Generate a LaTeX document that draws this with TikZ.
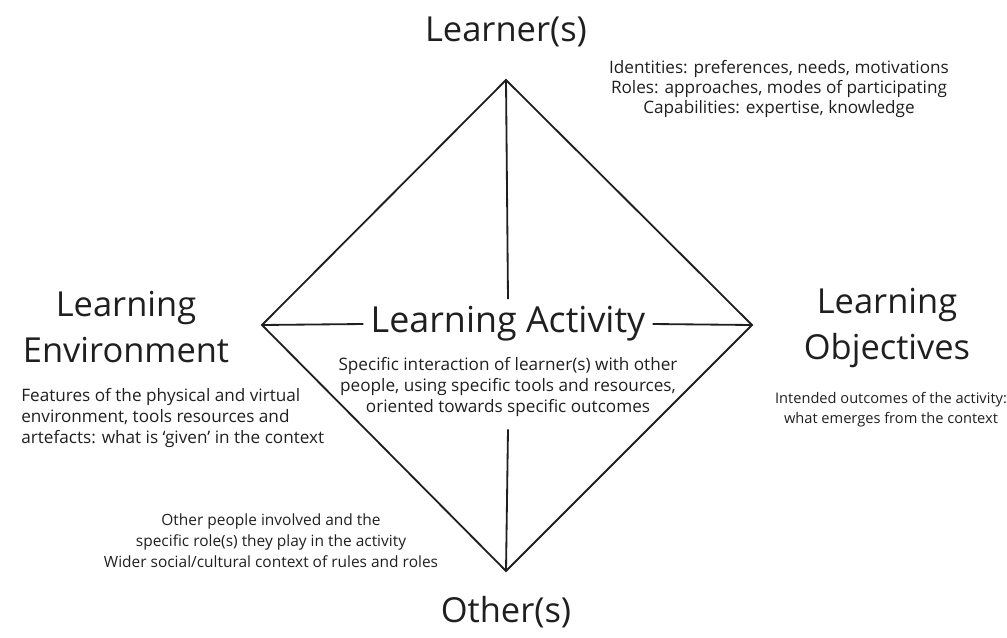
\documentclass[tikz,border=0pt]{standalone}
\usepackage{fontspec}
\setmainfont{Open Sans}
\usepackage{xcolor}
\usepackage{tikz}
\usetikzlibrary{positioning}

\begin{document}
\begin{tikzpicture}[x=0.025cm,y=-0.025cm]
  \tikzset{Title/.style={text=black!88, font=\fontsize{24.5}{33}\selectfont, align=center, inner sep=0pt}};
  \tikzset{Note/.style={text=black!88, font=\fontsize{12.2}{14.8}\selectfont, align=center, inner sep=0pt}};
  \tikzset{Edge/.style={draw=black!88, line width=1.3pt, line join=miter}};
  \useasboundingbox (0,0) rectangle (1007,638);
  % corners of the diamond
  \coordinate (t) at (506,80);
  \coordinate (l) at (262,325);
  \coordinate (r) at (752,325);
  \coordinate (b) at (506,571);
  % labels
  \node[Title, anchor=base] (learner) at (506,42) {Learner(s)};
  \node[Note, font=\fontsize{12.2}{14}\selectfont, anchor=base] (learnernote) at (779,113) {Identities: preferences, needs, motivations\\Roles: approaches, modes of participating\\Capabilities: expertise, knowledge};
  \node[Title] (env) at (126,327) {Learning\\Environment};
  \node[Note, align=left, anchor=north west] (envnote) at (21,388) {Features of the physical and virtual\\environment, tools resources and\\artefacts: what is `given' in the context};
  \node[Title] (obj) at (887,328) {Learning\\Objectives};
  \node[Note, font=\fontsize{10.4}{14.2}\selectfont, anchor=north] (objnote) at (891,392) {Intended outcomes of the activity:\\what emerges from the context};
  \node[Title, font=\fontsize{25.5}{33}\selectfont, inner xsep=5pt, inner ysep=5pt] (act) at (508,324) {Learning Activity};
  \node[Note, inner ysep=9pt][below=-3pt of act] (actnote) {Specific interaction of learner(s) with other\\people, using specific tools and resources,\\oriented towards specific outcomes};
  \node[Note, font=\fontsize{11}{15}\selectfont, anchor=north] (othernote) at (271,513) {Other people involved and the\\specific role(s) they play in the activity\\Wider social/cultural context of rules and roles};
  \node[Title, anchor=base] (other) at (506,622) {Other(s)};
  % diamond and its cross
  \draw[Edge] (t) -- (r) -- (b) -- (l) -- cycle;
  \draw[Edge] (t) -- (act.north);
  \draw[Edge] (actnote.south) -- (b);
  \draw[Edge] (l) -- (act.west);
  \draw[Edge] (act.east) -- (r);
\end{tikzpicture}
\end{document}
